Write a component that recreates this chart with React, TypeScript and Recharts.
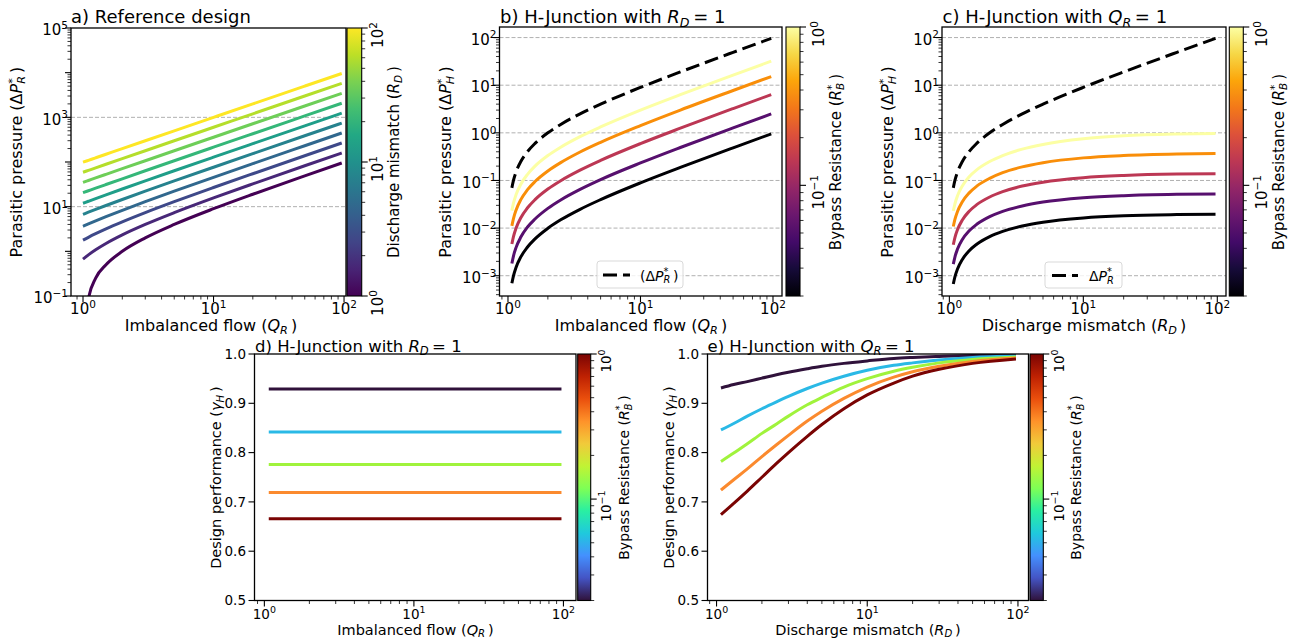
import React from 'react'
import { LineChart, Line, XAxis, YAxis, CartesianGrid } from 'recharts'

const FIG_W = 1303
const FIG_H = 642
const FONT = '"DejaVu Sans", Verdana, sans-serif'

// ---------- values ----------

// a) reference design: parasitic pressure vs imbalanced flow, one line per R_D (1 ... 100)
const qA = [1, 1.1, 1.25, 1.5, 2, 3, 5, 10, 20, 50, 96]
const dpA = [
  [0.01, 0.085, 0.25, 0.5, 1, 2, 4, 9, 19, 49, 95],
  [0.668, 0.835, 1.085, 1.502, 2.336, 4.004, 7.34, 15.68, 32.36, 82.4, 159],
  [1.783, 2.061, 2.479, 3.175, 4.566, 7.349, 12.92, 26.83, 54.66, 138.2, 266],
  [3.642, 4.106, 4.8, 5.963, 8.284, 12.93, 22.21, 45.42, 91.84, 231.1, 445],
  [6.743, 7.517, 8.679, 10.61, 14.49, 22.23, 37.72, 76.43, 153.9, 386.2, 742],
  [11.92, 13.21, 15.15, 18.38, 24.84, 37.76, 63.6, 128.2, 257.4, 645, 1239],
  [20.54, 22.69, 25.93, 31.31, 42.08, 63.62, 106.7, 214.4, 429.8, 1076, 2067],
  [34.94, 38.53, 43.93, 52.91, 70.88, 106.8, 178.7, 358.4, 717.8, 1796, 3449],
  [58.95, 64.95, 73.94, 88.93, 118.9, 178.9, 298.8, 598.5, 1198, 2997, 5754],
  [99, 109, 124, 149, 199, 299, 499, 999, 1999, 4999, 9599],
]

// b) H-junction with R_D = 1, x = Q_R, one line per bypass resistance (low -> high)
const qB = [1.07, 1.1, 1.15, 1.25, 1.4, 1.6, 2, 2.5, 3.5, 5, 10, 20, 50, 97]
const dpRefB = [0.07, 0.1, 0.15, 0.25, 0.4, 0.6, 1, 1.5, 2.5, 4, 9, 19, 49, 96]
const dpB = [
  [0.000693, 0.00099, 0.00149, 0.00248, 0.00396, 0.00594, 0.0099, 0.0149, 0.0248, 0.0396, 0.0891, 0.188, 0.485, 0.95],
  [0.00181, 0.00259, 0.00389, 0.00648, 0.0104, 0.0155, 0.0259, 0.0389, 0.0648, 0.104, 0.233, 0.492, 1.27, 2.49],
  [0.00462, 0.0066, 0.0099, 0.0165, 0.0264, 0.0396, 0.066, 0.099, 0.165, 0.264, 0.594, 1.25, 3.23, 6.34],
  [0.0111, 0.0158, 0.0237, 0.0396, 0.0633, 0.0949, 0.158, 0.237, 0.396, 0.633, 1.42, 3.01, 7.75, 15.2],
  [0.0233, 0.0333, 0.05, 0.0833, 0.133, 0.2, 0.333, 0.5, 0.833, 1.33, 3, 6.33, 16.3, 32],
]

// c) H-junction with Q_R = 1, x = R_D
const rdC = [1.07, 1.1, 1.15, 1.25, 1.4, 1.6, 2, 2.5, 3.5, 5, 10, 20, 50, 97]
const dpRefC = [0.07, 0.1, 0.15, 0.25, 0.4, 0.6, 1, 1.5, 2.5, 4, 9, 19, 49, 96]
const dpC = [
  [0.00067, 0.000943, 0.00138, 0.0022, 0.00331, 0.00458, 0.00662, 0.00852, 0.0111, 0.0133, 0.0163, 0.0181, 0.0192, 0.0196],
  [0.00175, 0.00247, 0.00362, 0.00578, 0.00867, 0.012, 0.0174, 0.0225, 0.0292, 0.0352, 0.0433, 0.048, 0.0511, 0.0521],
  [0.00448, 0.00631, 0.00926, 0.0148, 0.0223, 0.031, 0.045, 0.0582, 0.0762, 0.0921, 0.114, 0.127, 0.136, 0.138],
  [0.0108, 0.0152, 0.0223, 0.0358, 0.0542, 0.0758, 0.111, 0.146, 0.193, 0.236, 0.298, 0.334, 0.359, 0.367],
  [0.0228, 0.0323, 0.0476, 0.0769, 0.118, 0.167, 0.25, 0.333, 0.455, 0.571, 0.75, 0.864, 0.942, 0.97],
]

// d) design performance with R_D = 1 (flat in Q_R)
const qD = [1.07, 97]
const gammaD = [0.929, 0.842, 0.776, 0.719, 0.666]

// e) design performance with Q_R = 1
const rdE = [1.07, 1.3, 1.6, 2, 2.5, 3, 4, 5, 7, 10, 15, 20, 30, 50, 97]
const gammaE = [
  [0.931, 0.938, 0.944, 0.951, 0.958, 0.963, 0.97, 0.975, 0.981, 0.986, 0.991, 0.993, 0.995, 0.997, 0.998],
  [0.846, 0.859, 0.874, 0.889, 0.903, 0.914, 0.93, 0.941, 0.955, 0.967, 0.977, 0.982, 0.988, 0.993, 0.996],
  [0.782, 0.799, 0.818, 0.839, 0.858, 0.874, 0.897, 0.912, 0.933, 0.95, 0.965, 0.973, 0.982, 0.989, 0.994],
  [0.724, 0.745, 0.767, 0.792, 0.816, 0.835, 0.864, 0.884, 0.91, 0.933, 0.953, 0.964, 0.975, 0.985, 0.992],
  [0.674, 0.697, 0.722, 0.75, 0.778, 0.8, 0.833, 0.857, 0.889, 0.917, 0.941, 0.955, 0.969, 0.981, 0.99],
]

// tick labels
const X_MAJOR = [1, 10, 100]
const Y_MAJOR_A = [0.1, 10, 1000, 100000]
const Y_MAJOR_BC = [0.001, 0.01, 0.1, 1, 10, 100]
const Y_TICKS_DE = [0.5, 0.6, 0.7, 0.8, 0.9, 1.0]
const CB_MAJOR_A = [1, 10, 100]
const CB_MAJOR_RB = [0.1, 1]

// ---------- colours ----------
const VIRIDIS = ['#440154', '#482475', '#414487', '#355f8d', '#2a788e', '#21918c', '#22a884', '#44bf70', '#7ad151', '#bddf26', '#fde725']
const INFERNO = ['#000004', '#160b39', '#420a68', '#6a176e', '#932667', '#bc3754', '#dd513a', '#f37819', '#fca50a', '#f6d746', '#fcffa4']
const TURBO = ['#30123b', '#4454c4', '#4490fe', '#1fc9dd', '#29efa2', '#7eff55', '#c1f334', '#f1ca3a', '#fe922a', '#ea4f0d', '#be2102', '#7a0403']
const COLORS_A = ['#440154', '#482878', '#3e4989', '#31688e', '#26828e', '#1f9e89', '#35b779', '#6ece58', '#b5de2b', '#fde725']
const COLORS_BC = ['#000004', '#57106e', '#bc3754', '#f98e09', '#fcffa4']
const COLORS_DE = ['#30123b', '#2ab9e6', '#a0f33c', '#fb8a2e', '#7a0403']

// ---------- layout (page pixels) ----------
type Box = { left: number; right: number; top: number; bottom: number }
const BOX_A: Box = { left: 71, right: 346, top: 28, bottom: 296 }
const BOX_B: Box = { left: 499.5, right: 782, top: 27, bottom: 296 }
const BOX_C: Box = { left: 942, right: 1226, top: 27, bottom: 296 }
const BOX_D: Box = { left: 254.5, right: 576, top: 354, bottom: 600.5 }
const BOX_E: Box = { left: 707.5, right: 1028.5, top: 354, bottom: 600.5 }

const p10 = (e: number) => Math.pow(10, e)
const XDOM_A: [number, number] = [p10(-0.092), p10(2.015)]
const XDOM_B: [number, number] = [p10(-0.064), p10(2.068)]
const XDOM_C: [number, number] = [p10(-0.055), p10(2.065)]
const XDOM_D: [number, number] = [p10(-0.066), p10(2.084)]
const XDOM_E: [number, number] = [p10(-0.06), p10(2.07)]
const YDOM_A: [number, number] = [0.1, 100000]
const YDOM_BC: [number, number] = [p10(-3.426), p10(2.222)]
const YDOM_DE: [number, number] = [0.5, 1.0]

const AX_W = 60
const AX_H = 30

// ---------- helpers ----------
function logTicks(lo: number, hi: number) {
  const out: number[] = []
  for (let d = Math.floor(Math.log10(lo)); d <= Math.ceil(Math.log10(hi)); d++) {
    for (let m = 1; m < 10; m++) {
      const v = m * Math.pow(10, d)
      if (v >= lo * 0.9999 && v <= hi * 1.0001) out.push(v)
    }
  }
  return out
}
const inList = (v: number, list: number[]) => list.some((m) => Math.abs(m - v) / m < 1e-6)
const isDecade = (v: number) => Math.abs(Math.log10(v) - Math.round(Math.log10(v))) < 1e-6

function toRows(xs: number[], series: number[][]) {
  return xs.map((x, i) => {
    const row: Record<string, number> = { x }
    series.forEach((s, k) => {
      row['s' + k] = s[i]
    })
    return row
  })
}

function PowerLabel({ x, y, v, fs, anchor }: { x: number; y: number; v: number; fs: number; anchor: string }) {
  const e = Math.round(Math.log10(v))
  return (
    <text x={x} y={y} textAnchor={anchor} fontSize={fs} fontFamily={FONT} fill="#000">
      10
      <tspan fontSize={fs * 0.7} dy={-fs * 0.42}>
        {e < 0 ? '\u2212' + -e : String(e)}
      </tspan>
    </text>
  )
}

// italic symbol with optional stacked super/subscript, used inside <text>
function MathSym({ base, sup, sub, fs }: { base: string; sup?: string; sub?: string; fs: number }) {
  const s = fs * 0.7
  const up = -fs * 0.4
  const down = fs * 0.2
  const parts: React.ReactNode[] = [
    <tspan key="b" fontStyle="italic">
      {base}
    </tspan>,
  ]
  let shift = 0
  if (sup) {
    parts.push(
      <tspan key="p" fontSize={s} dy={up}>
        {sup}
      </tspan>
    )
    shift = up
  }
  if (sub) {
    parts.push(
      <tspan key="s" fontSize={s} fontStyle="italic" dx={sup ? -s * 0.5 : 0} dy={down - shift}>
        {sub}
      </tspan>
    )
    shift = down
  }
  parts.push(
    <tspan key="r" dy={-shift}>
      {'\u2009'}
    </tspan>
  )
  return <>{parts}</>
}

const xLogTick = (fs: number, lab: number) => (p: any) => {
  const v = p.payload.value
  const major = inList(v, X_MAJOR)
  return (
    <g>
      <line x1={p.x} x2={p.x} y1={p.y} y2={p.y + (major ? 6 : 3.5)} stroke="#000" strokeWidth={major ? 1.1 : 0.8} />
      {major && <PowerLabel x={p.x} y={p.y + lab} v={v} fs={fs} anchor="middle" />}
    </g>
  )
}

const yLogTick = (fs: number, majors: number[]) => (p: any) => {
  const v = p.payload.value
  const dec = isDecade(v)
  return (
    <g>
      <line x1={p.x} x2={p.x - (dec ? 6 : 3.5)} y1={p.y} y2={p.y} stroke="#000" strokeWidth={dec ? 1.1 : 0.8} />
      {inList(v, majors) && <PowerLabel x={p.x - 3} y={p.y + fs * 0.48} v={v} fs={fs} anchor="end" />}
    </g>
  )
}

const yLinTick = (fs: number) => (p: any) => (
  <g>
    <line x1={p.x} x2={p.x - 6} y1={p.y} y2={p.y} stroke="#000" strokeWidth={1.1} />
    <text x={p.x - 8.5} y={p.y + fs * 0.36} textAnchor="end" fontSize={fs} fontFamily={FONT} fill="#000">
      {Number(p.payload.value).toFixed(1)}
    </text>
  </g>
)

type Series = { key: string; color: string; dash?: string }

function Panel(props: {
  box: Box
  rows: Record<string, number>[]
  xDomain: [number, number]
  yDomain: [number, number]
  yLog: boolean
  yTicks: number[]
  xTick: any
  yTick: any
  grid?: number[]
  series: Series[]
}) {
  const { box, rows, xDomain, yDomain, yLog, yTicks, xTick, yTick, grid, series } = props
  return (
    <div style={{ position: 'absolute', left: 0, top: 0 }}>
      <LineChart
        width={FIG_W}
        height={FIG_H}
        data={rows}
        margin={{ top: box.top, right: FIG_W - box.right, bottom: FIG_H - box.bottom - AX_H, left: box.left - AX_W }}
      >
        {grid && (
          <CartesianGrid vertical={false} horizontalValues={grid} stroke="#b0b0b0" strokeDasharray="4 2" strokeWidth={1} />
        )}
        <XAxis
          dataKey="x"
          type="number"
          scale="log"
          domain={xDomain}
          allowDataOverflow
          ticks={logTicks(xDomain[0], xDomain[1])}
          interval={0}
          tickSize={0}
          tickMargin={0}
          axisLine={false}
          tickLine={false}
          height={AX_H}
          tick={xTick}
        />
        <YAxis
          type="number"
          scale={yLog ? 'log' : 'linear'}
          domain={yDomain}
          allowDataOverflow
          ticks={yTicks}
          interval={0}
          tickSize={0}
          tickMargin={0}
          axisLine={false}
          tickLine={false}
          width={AX_W}
          tick={yTick}
        />
        {series.map((s) => (
          <Line
            key={s.key}
            dataKey={s.key}
            type="monotone"
            stroke={s.color}
            strokeWidth={3}
            strokeDasharray={s.dash}
            dot={false}
            activeDot={false}
            isAnimationActive={false}
          />
        ))}
      </LineChart>
    </div>
  )
}

function ColorBar(props: {
  id: string
  x: number
  y: number
  w: number
  h: number
  colors: string[]
  lo: number
  hi: number
  majors: number[]
  fs: number
  labelX: number
}) {
  const { id, x, y, w, h, colors, lo, hi, majors, fs, labelX } = props
  const l0 = Math.log10(lo)
  const l1 = Math.log10(hi)
  const py = (v: number) => y + h - ((Math.log10(v) - l0) / (l1 - l0)) * h
  return (
    <g>
      <defs>
        <linearGradient id={id} x1="0" y1="1" x2="0" y2="0">
          {colors.map((c, i) => (
            <stop key={i} offset={i / (colors.length - 1)} stopColor={c} />
          ))}
        </linearGradient>
      </defs>
      <rect x={x} y={y} width={w} height={h} fill={`url(#${id})`} stroke="#000" strokeWidth={1.1} />
      {logTicks(lo, hi).map((v) => {
        const dec = isDecade(v)
        return (
          <g key={v}>
            <line x1={x + w} x2={x + w + (dec ? 6 : 3.5)} y1={py(v)} y2={py(v)} stroke="#000" strokeWidth={dec ? 1.1 : 0.8} />
            {inList(v, majors) && (
              <g transform={`translate(${labelX},${py(v) + 7}) rotate(-90)`}>
                <PowerLabel x={0} y={0} v={v} fs={fs} anchor="middle" />
              </g>
            )}
          </g>
        )
      })}
    </g>
  )
}

function Frame({ b }: { b: Box }) {
  return <rect x={b.left} y={b.top} width={b.right - b.left} height={b.bottom - b.top} fill="none" stroke="#000" strokeWidth={1.3} />
}

function VText({ x, y, fs, children }: { x: number; y: number; fs: number; children: React.ReactNode }) {
  return (
    <text transform={`translate(${x},${y}) rotate(-90)`} textAnchor="middle" fontSize={fs} fontFamily={FONT} fill="#000">
      {children}
    </text>
  )
}

function HText({ x, y, fs, anchor, children }: { x: number; y: number; fs: number; anchor?: string; children: React.ReactNode }) {
  return (
    <text x={x} y={y} textAnchor={anchor || 'start'} fontSize={fs} fontFamily={FONT} fill="#000">
      {children}
    </text>
  )
}

export default function App() {
  const rowsA = toRows(qA, dpA)
  const rowsB = toRows(qB, [...dpB, dpRefB])
  const rowsC = toRows(rdC, [...dpC, dpRefC])
  const rowsD = toRows(qD, gammaD.map((g) => qD.map(() => g)))
  const rowsE = toRows(rdE, gammaE)

  const seriesA = COLORS_A.map((c, i) => ({ key: 's' + i, color: c }))
  const seriesBC: Series[] = [
    ...COLORS_BC.map((c, i) => ({ key: 's' + i, color: c })),
    { key: 's5', color: '#000', dash: '14 6' },
  ]
  const seriesDE = COLORS_DE.map((c, i) => ({ key: 's' + i, color: c }))

  const TOP_TICK = 15
  const BOT_TICK = 13.5
  const yTicksA = logTicks(YDOM_A[0], YDOM_A[1])
  const yTicksBC = logTicks(YDOM_BC[0], YDOM_BC[1])

  return (
    <div style={{ position: 'absolute', left: 0, top: 0, width: FIG_W, height: FIG_H, background: '#fff', overflow: 'hidden' }}>
      <Panel box={BOX_A} rows={rowsA} xDomain={XDOM_A} yDomain={YDOM_A} yLog yTicks={yTicksA}
        xTick={xLogTick(TOP_TICK, 18)} yTick={yLogTick(TOP_TICK, Y_MAJOR_A)} grid={[10, 1000]} series={seriesA} />
      <Panel box={BOX_B} rows={rowsB} xDomain={XDOM_B} yDomain={YDOM_BC} yLog yTicks={yTicksBC}
        xTick={xLogTick(TOP_TICK, 18)} yTick={yLogTick(TOP_TICK, Y_MAJOR_BC)} grid={Y_MAJOR_BC} series={seriesBC} />
      <Panel box={BOX_C} rows={rowsC} xDomain={XDOM_C} yDomain={YDOM_BC} yLog yTicks={yTicksBC}
        xTick={xLogTick(TOP_TICK, 18)} yTick={yLogTick(TOP_TICK, Y_MAJOR_BC)} grid={Y_MAJOR_BC} series={seriesBC} />
      <Panel box={BOX_D} rows={rowsD} xDomain={XDOM_D} yDomain={YDOM_DE} yLog={false} yTicks={Y_TICKS_DE}
        xTick={xLogTick(BOT_TICK, 18)} yTick={yLinTick(BOT_TICK)} series={seriesDE} />
      <Panel box={BOX_E} rows={rowsE} xDomain={XDOM_E} yDomain={YDOM_DE} yLog={false} yTicks={Y_TICKS_DE}
        xTick={xLogTick(BOT_TICK, 18)} yTick={yLinTick(BOT_TICK)} series={seriesDE} />

      <svg width={FIG_W} height={FIG_H} style={{ position: 'absolute', left: 0, top: 0, pointerEvents: 'none' }}>
        <Frame b={BOX_A} />
        <Frame b={BOX_B} />
        <Frame b={BOX_C} />
        <Frame b={BOX_D} />
        <Frame b={BOX_E} />

        <ColorBar id="cbA" x={347} y={28} w={14.7} h={268} colors={VIRIDIS} lo={1} hi={100} majors={CB_MAJOR_A} fs={TOP_TICK} labelX={383} />
        <ColorBar id="cbB" x={786} y={27} w={14} h={269} colors={INFERNO} lo={0.02} hi={1} majors={CB_MAJOR_RB} fs={TOP_TICK} labelX={824} />
        <ColorBar id="cbC" x={1229.3} y={27} w={14} h={269} colors={INFERNO} lo={0.02} hi={1} majors={CB_MAJOR_RB} fs={TOP_TICK} labelX={1267} />
        <ColorBar id="cbD" x={577.7} y={354} w={13} h={246.5} colors={TURBO} lo={0.02} hi={1} majors={CB_MAJOR_RB} fs={BOT_TICK} labelX={611} />
        <ColorBar id="cbE" x={1030} y={354} w={13.3} h={246.5} colors={TURBO} lo={0.02} hi={1} majors={CB_MAJOR_RB} fs={BOT_TICK} labelX={1064} />

        {/* titles */}
        <HText x={71} y={23} fs={18}>a) Reference design</HText>
        <HText x={500} y={23} fs={18}>
          b) H-Junction with <MathSym base="R" sub="D" fs={18} />= 1
        </HText>
        <HText x={942.5} y={23} fs={18}>
          c) H-Junction with <MathSym base="Q" sub="R" fs={18} />= 1
        </HText>
        <HText x={255} y={351.5} fs={16.5}>
          d) H-Junction with <MathSym base="R" sub="D" fs={16.5} />= 1
        </HText>
        <HText x={707.5} y={351.5} fs={16.5}>
          e) H-Junction with <MathSym base="Q" sub="R" fs={16.5} />= 1
        </HText>

        {/* x labels */}
        <HText x={211} y={331} fs={16} anchor="middle">
          Imbalanced flow (<MathSym base="Q" sub="R" fs={16} />)
        </HText>
        <HText x={641} y={331} fs={16} anchor="middle">
          Imbalanced flow (<MathSym base="Q" sub="R" fs={16} />)
        </HText>
        <HText x={1084} y={331} fs={16} anchor="middle">
          Discharge mismatch (<MathSym base="R" sub="D" fs={16} />)
        </HText>
        <HText x={415.5} y={634.5} fs={14.5} anchor="middle">
          Imbalanced flow (<MathSym base="Q" sub="R" fs={14.5} />)
        </HText>
        <HText x={868} y={634.5} fs={14.5} anchor="middle">
          Discharge mismatch (<MathSym base="R" sub="D" fs={14.5} />)
        </HText>

        {/* y labels */}
        <VText x={22} y={162} fs={16}>
          Parasitic pressure (Δ<MathSym base="P" sup="*" sub="R" fs={16} />)
        </VText>
        <VText x={451} y={162} fs={16}>
          Parasitic pressure (Δ<MathSym base="P" sup="*" sub="H" fs={16} />)
        </VText>
        <VText x={893} y={162} fs={16}>
          Parasitic pressure (Δ<MathSym base="P" sup="*" sub="H" fs={16} />)
        </VText>
        <VText x={221} y={477.5} fs={14.5}>
          Design performance (<MathSym base="γ" sub="H" fs={14.5} />)
        </VText>
        <VText x={674} y={477.5} fs={14.5}>
          Design performance (<MathSym base="γ" sub="H" fs={14.5} />)
        </VText>

        {/* colorbar labels */}
        <VText x={399} y={162} fs={15}>
          Discharge mismatch (<MathSym base="R" sub="D" fs={15} />)
        </VText>
        <VText x={841} y={162} fs={15}>
          Bypass Resistance (<MathSym base="R" sup="*" sub="B" fs={15} />)
        </VText>
        <VText x={1284} y={162} fs={15}>
          Bypass Resistance (<MathSym base="R" sup="*" sub="B" fs={15} />)
        </VText>
        <VText x={629} y={477.5} fs={14}>
          Bypass Resistance (<MathSym base="R" sup="*" sub="B" fs={14} />)
        </VText>
        <VText x={1081} y={477.5} fs={14}>
          Bypass Resistance (<MathSym base="R" sup="*" sub="B" fs={14} />)
        </VText>

        {/* legends */}
        <rect x={597} y={261} width={86} height={27} rx={3} fill="#fff" fillOpacity={0.8} stroke="#d9d9d9" />
        <line x1={603} x2={630} y1={275} y2={275} stroke="#000" strokeWidth={3} strokeDasharray="14 6" />
        <HText x={640} y={280.5} fs={14}>
          (Δ<MathSym base="P" sup="*" sub="R" fs={14} />)
        </HText>
        <rect x={1045} y={262} width={77} height={26} rx={3} fill="#fff" fillOpacity={0.8} stroke="#d9d9d9" />
        <line x1={1052} x2={1078} y1={275.5} y2={275.5} stroke="#000" strokeWidth={3} strokeDasharray="14 6" />
        <HText x={1089} y={281} fs={14}>
          Δ<MathSym base="P" sup="*" sub="R" fs={14} />
        </HText>
      </svg>
    </div>
  )
}
